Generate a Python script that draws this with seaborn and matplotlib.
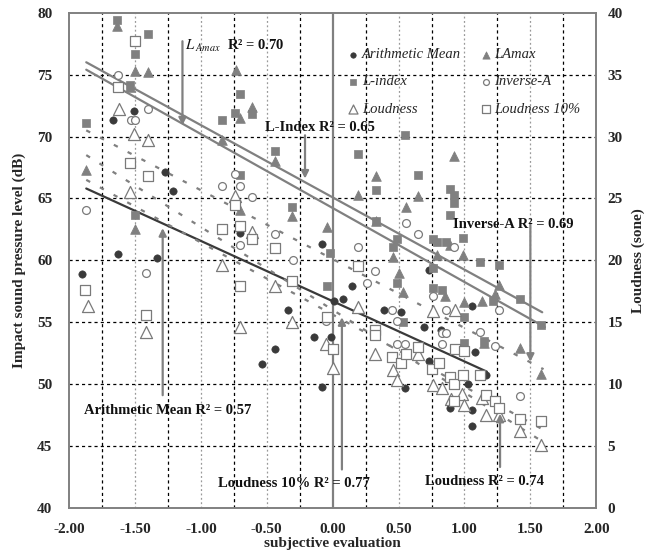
import numpy as np
import matplotlib
matplotlib.use('Agg')
import matplotlib.pyplot as plt
import seaborn as sns

# --- data (x = subjective evaluation) ---
# Arithmetic Mean (dB)
am_x = [-1.90, -1.67, -1.63, -1.51, -1.33, -1.27, -1.21, -0.70, -0.54, -0.44, -0.34, -0.14, -0.08, -0.08,
        -0.01, 0.01, 0.08, 0.15, 0.39, 0.52, 0.55, 0.69, 0.73, 0.73, 0.82, 0.89, 1.03, 1.06, 1.06, 1.06, 1.08, 1.16]
am_y = [58.9, 71.3, 60.5, 72.1, 60.2, 67.1, 65.6, 62.2, 51.6, 52.8, 56.0, 53.8, 61.3, 49.8,
        53.8, 56.7, 56.9, 57.9, 56.0, 55.8, 49.7, 54.6, 59.2, 51.9, 54.4, 48.1, 50.0, 56.3, 47.9, 46.6, 52.6, 50.7]

# LAmax (dB)
lamax_x = [-1.87, -1.64, -1.54, -1.50, -1.40, -1.50, -0.84, -0.73, -0.70, -0.61, -0.70, -0.44, -0.31, -0.04,
           0.19, 0.33, 0.33, 0.46, 0.50, 0.53, 0.56, 0.65, 0.79, 0.85, 0.89, 0.92, 0.99, 1.00,
           1.13, 1.15, 1.23, 1.26, 1.42, 1.58]
lamax_y = [67.3, 78.9, 74.0, 75.3, 75.2, 62.5, 69.7, 75.4, 71.5, 72.4, 64.1, 68.0, 63.6, 62.7,
           65.3, 66.8, 63.2, 60.3, 59.0, 57.4, 64.3, 65.2, 60.4, 57.1, 61.2, 68.4, 60.4, 56.6,
           56.7, 53.3, 57.3, 58.0, 52.9, 50.8]

# L-index (dB)
lidx_x = [-1.87, -1.64, -1.54, -1.50, -1.50, -1.40, -0.84, -0.74, -0.70, -0.70, -0.61, -0.44, -0.31, -0.04, -0.02,
          0.19, 0.33, 0.33, 0.46, 0.49, 0.49, 0.53, 0.55, 0.65,
          0.76, 0.76, 0.76, 0.79, 0.83, 0.86, 0.89, 0.89, 0.92, 0.92, 0.99,
          1.00, 1.00, 1.12, 1.15, 1.22, 1.26, 1.42, 1.58]
lidx_y = [71.1, 79.4, 74.2, 76.7, 63.7, 78.3, 71.3, 71.9, 73.4, 66.9, 71.8, 68.8, 64.3, 57.9, 60.6,
          68.6, 65.7, 63.2, 61.1, 61.7, 58.2, 55.0, 70.1, 66.9,
          61.7, 59.4, 57.8, 61.5, 57.6, 61.5, 65.8, 63.7, 65.3, 64.6, 61.8,
          55.4, 53.3, 59.9, 53.5, 56.7, 59.6, 56.9, 54.8]

# Inverse-A (dB)
inva_x = [-1.87, -1.63, -1.53, -1.50, -1.42, -1.40, -0.84, -0.74, -0.70, -0.70, -0.61, -0.44, -0.30, -0.05,
          0.19, 0.26, 0.32, 0.45, 0.49, 0.49, 0.55, 0.56, 0.65, 0.76, 0.83, 0.83, 0.86, 0.86, 0.92,
          1.12, 1.23, 1.26, 1.42]
inva_y = [64.1, 75.0, 71.3, 71.3, 59.0, 72.2, 66.0, 67.0, 66.0, 61.2, 65.1, 62.1, 60.0, 55.1,
          61.1, 58.2, 59.1, 56.0, 55.1, 53.2, 53.2, 63.0, 62.1, 57.1, 54.1, 53.2, 56.0, 54.1, 61.1,
          54.2, 53.1, 56.0, 49.0]

# Loudness (sone)
loud_x = [-1.86, -1.62, -1.54, -1.51, -1.42, -1.40, -0.84, -0.74, -0.70, -0.61, -0.44, -0.31, -0.05, 0.00,
          0.19, 0.32, 0.46, 0.49, 0.65, 0.76, 0.76, 0.83, 0.90, 0.93, 0.98, 1.00,
          1.13, 1.16, 1.26, 1.42, 1.58]
loud_y = [16.3, 32.2, 25.5, 30.2, 14.2, 29.7, 19.6, 25.2, 14.6, 22.3, 17.9, 15.0, 13.2, 11.3,
          16.2, 12.4, 11.1, 10.3, 12.4, 15.9, 9.9, 9.7, 8.8, 16.0, 9.2, 8.3,
          8.9, 7.5, 7.5, 6.2, 5.1]

# Loudness 10% (sone)
l10_x = [-1.88, -1.63, -1.54, -1.50, -1.42, -1.40, -0.84, -0.74, -0.70, -0.70, -0.61, -0.44, -0.31, -0.04, 0.00,
         0.19, 0.32, 0.32, 0.45, 0.52, 0.56, 0.65, 0.75, 0.81, 0.89, 0.92, 0.92, 0.93, 0.99, 1.00,
         1.12, 1.16, 1.23, 1.26, 1.42, 1.58]
l10_y = [17.6, 34.0, 27.9, 37.7, 15.6, 26.8, 22.5, 24.5, 22.8, 17.9, 21.7, 21.0, 18.3, 15.4, 12.8,
         19.5, 14.4, 14.0, 12.2, 11.7, 12.4, 13.0, 11.2, 11.7, 10.6, 10.0, 8.6, 12.8, 10.7, 12.7,
         10.7, 9.1, 8.6, 8.1, 7.2, 7.0]

# regression lines (end points)
lidx_fit_x, lidx_fit_y = [-1.87, 1.59], [76.0, 55.8]
lamax_fit_x, lamax_fit_y = [-1.87, 1.61], [75.4, 54.6]
am_fit_x, am_fit_y = [-1.87, 1.17], [65.8, 51.0]
inva_fit_x, inva_fit_y = [-1.87, 1.60], [70.5, 51.2]
loud_fit_x, loud_fit_y = [-1.87, 1.60], [28.5, 5.3]
l10_fit_x, l10_fit_y = [-1.87, 1.60], [26.5, 6.3]

# annotation labels: text, text position, arrow tail, arrow tip (left axis units)
notes = [
    (r'$L_{\ Amax}$  R² = 0.70', (-1.12, 77.3), (-1.14, 77.7), (-1.14, 70.9)),
    ('L-Index R² = 0.65', (-0.515, 70.7), (-0.21, 70.1), (-0.21, 66.6)),
    ('Inverse-A R² = 0.69', (0.91, 62.9), (1.50, 62.9), (1.50, 51.8)),
    ('Arithmetic Mean R² = 0.57', (-1.89, 47.9), (-1.29, 49.1), (-1.29, 62.6)),
    ('Loudness 10% R² = 0.77', (-0.87, 42.0), (0.07, 43.1), (0.07, 55.4)),
    ('Loudness R² = 0.74', (0.70, 42.1), (1.27, 43.3), (1.27, 47.6)),
]

sns.set_style('white')
plt.rcParams['font.family'] = ['Liberation Serif', 'DejaVu Serif']
plt.rcParams['mathtext.fontset'] = 'stix'

DARK = '#3a3a3a'
GRAY = '#808080'
OPEN = '#7a7a7a'

fig = plt.figure(figsize=(6.46, 5.55), dpi=100)
ax = fig.add_axes([0.107, 0.085, 0.816, 0.892])
ax2 = ax.twinx()

# grid
for v in np.arange(-1.75, 2.0, 0.25):
    if abs(v) < 1e-9:
        continue
    if abs(v * 2 - round(v * 2)) < 1e-9:
        ax.axvline(v, color='#999999', lw=0.9, ls=(0, (1.5, 2)), zorder=0)
    else:
        ax.axvline(v, color='black', lw=0.9, ls=(0, (2.5, 2.5)), zorder=0)
for h in range(45, 80, 5):
    ax.axhline(h, color='black', lw=0.9, ls=(0, (2.5, 2.5)), zorder=0)
ax.axvline(0, color=GRAY, lw=1.6, zorder=1)

# regression lines
sns.lineplot(x=lidx_fit_x, y=lidx_fit_y, ax=ax, color=GRAY, lw=1.6, zorder=2)
sns.lineplot(x=lamax_fit_x, y=lamax_fit_y, ax=ax, color=GRAY, lw=1.6, zorder=2)
sns.lineplot(x=am_fit_x, y=am_fit_y, ax=ax, color=DARK, lw=1.6, zorder=2)
sns.lineplot(x=inva_fit_x, y=inva_fit_y, ax=ax, color=GRAY, lw=1.6, ls=(0, (2, 5)), zorder=2)

# dB series
sns.scatterplot(x=am_x, y=am_y, ax=ax, marker='o', s=28, color=DARK, edgecolor=DARK,
                label='Arithmetic Mean', zorder=3, legend=False)
sns.scatterplot(x=lidx_x, y=lidx_y, ax=ax, marker='s', s=38, color=GRAY, edgecolor=GRAY,
                label='L-index', zorder=3, legend=False)
sns.scatterplot(x=lamax_x, y=lamax_y, ax=ax, marker='^', s=48, color=GRAY, edgecolor=GRAY,
                label='LAmax', zorder=3, legend=False)
sns.scatterplot(x=inva_x, y=inva_y, ax=ax, marker='o', s=32, facecolor='white', edgecolor=OPEN,
                linewidth=0.9, label='Inverse-A', zorder=3, legend=False)

# sone series (right axis)
sns.lineplot(x=loud_fit_x, y=loud_fit_y, ax=ax2, color=GRAY, lw=1.6, ls=(0, (2, 5)), zorder=2)
sns.lineplot(x=l10_fit_x, y=l10_fit_y, ax=ax2, color=GRAY, lw=1.6, ls=(0, (2, 5)), zorder=2)
sns.scatterplot(x=loud_x, y=loud_y, ax=ax2, marker='^', s=75, facecolor='white', edgecolor=OPEN,
                linewidth=0.9, label='Loudness', zorder=3, legend=False)
sns.scatterplot(x=l10_x, y=l10_y, ax=ax2, marker='s', s=50, facecolor='white', edgecolor=OPEN,
                linewidth=0.9, label='Loudness 10%', zorder=3, legend=False)

# arrows + labels
for txt, tpos, tail, tip in notes:
    ax2.annotate('', xy=(tip[0], tip[1] - 40), xytext=(tail[0], tail[1] - 40),
                 arrowprops=dict(arrowstyle='-|>', color=GRAY, lw=1.6, mutation_scale=11,
                                 shrinkA=0, shrinkB=0), zorder=4)
    ax2.text(tpos[0], tpos[1] - 40, txt, fontsize=10.5, fontweight='bold', va='center', ha='left',
             color='#111111', zorder=5)

# axes
ax.set_xlim(-2, 2)
ax.set_ylim(40, 80)
ax2.set_ylim(0, 40)
xt = np.arange(-2, 2.01, 0.5)
ax.set_xticks(xt)
ax.set_xticklabels(['%.2f' % v for v in xt])
ax.set_yticks(range(40, 81, 5))
ax2.set_yticks(range(0, 41, 5))
for a in (ax, ax2):
    a.tick_params(length=0, labelsize=11)
    for lab in a.get_xticklabels() + a.get_yticklabels():
        lab.set_fontweight('bold')
    for sp in a.spines.values():
        sp.set_color(GRAY)
        sp.set_linewidth(1.2)
ax.tick_params(axis='x', pad=11)
ax.tick_params(axis='y', pad=12)
ax2.tick_params(axis='y', pad=8)
ax.set_xlabel('subjective evaluation', fontsize=11, fontweight='bold', labelpad=1)
ax.set_ylabel('Impact sound pressure level (dB)', fontsize=11, fontweight='bold', labelpad=8)
ax2.set_ylabel('Loudness (sone)', fontsize=11, fontweight='bold', labelpad=6)

# legend
h1, l1 = ax.get_legend_handles_labels()
h2, l2 = ax2.get_legend_handles_labels()
hd = dict(zip(l1 + l2, h1 + h2))
order = ['Arithmetic Mean', 'L-index', 'Loudness', 'LAmax', 'Inverse-A', 'Loudness 10%']
ax2.legend([hd[k] for k in order], order, ncol=2, frameon=False, loc='upper left',
           bbox_to_anchor=(0.5, 0.955), prop={'style': 'italic', 'size': 10.5},
           handletextpad=0.1, columnspacing=1.2, labelspacing=0.95, handlelength=1.0,
           markerscale=0.75)

fig.savefig('out.png', dpi=100)
